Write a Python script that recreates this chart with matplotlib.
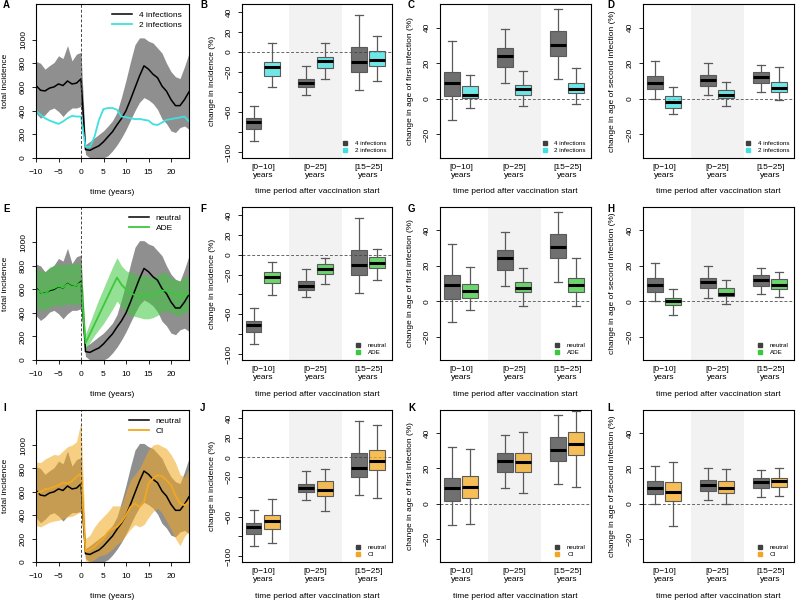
import numpy as np
import matplotlib.pyplot as plt
from matplotlib.colors import to_rgba
from matplotlib.lines import Line2D

plt.rcParams['font.family'] = ['Liberation Sans', 'DejaVu Sans']
plt.rcParams['font.size'] = 6

# ---- time series data (total incidence per year) ----
years = list(range(-10, 25))

neutral_line = [612, 572, 566, 590, 600, 625, 612, 650, 625, 632, 668,
                71, 65, 85, 103, 137, 180, 222, 280, 333, 400, 493, 593, 692, 778,
                750, 707, 678, 607, 564, 493, 442, 442, 493, 558]
neutral_hi = [815, 800, 750, 780, 806, 863, 840, 949, 820, 877, 892,
              114, 140, 170, 200, 229, 270, 314, 386, 514, 657, 814, 957, 1014, 1014,
              986, 971, 929, 886, 800, 729, 686, 671, 771, 886]
neutral_lo = [379, 336, 365, 407, 422, 393, 350, 393, 422, 422, 436,
              30, 0, 0, 0, 0, 20, 60, 110, 170, 240, 320, 400, 470, 510,
              490, 460, 410, 330, 290, 229, 215, 257, 270, 243]

two_inf_line = [399, 365, 336, 316, 302, 288, 308, 336, 356, 350, 350,
                94, 94, 180, 322, 413, 422, 422, 407, 350, 345, 336, 328, 330, 322,
                316, 285, 279, 299, 322, 328, 336, 342, 350, 308]

ade_line = [600, 575, 560, 600, 610, 630, 615, 645, 620, 635, 655,
            143, 223, 303, 383, 463, 543, 623, 700, 640, 600, 570, 550, 545, 545,
            550, 545, 570, 590, 590, 575, 555, 540, 545, 565]
ade_hi = [780, 760, 750, 790, 800, 820, 800, 820, 810, 820, 830,
          220, 320, 420, 520, 610, 700, 790, 870, 800, 760, 740, 730, 720, 720,
          710, 700, 720, 740, 740, 700, 680, 670, 700, 720]
ade_lo = [460, 420, 430, 440, 470, 460, 460, 480, 470, 470, 480,
          90, 150, 210, 260, 310, 370, 430, 500, 450, 410, 380, 370, 360, 350,
          350, 360, 380, 410, 420, 400, 380, 380, 400, 420]

ci_line = [586, 600, 623, 629, 643, 657, 680, 671, 691, 729, 757,
           90, 105, 129, 171, 200, 257, 286, 300, 343, 400, 471, 500, 471, 514,
           671, 714, 743, 734, 700, 657, 571, 500, 486, 514]
ci_hi = [857, 850, 880, 900, 920, 914, 950, 986, 1000, 1029, 1200,
         200, 230, 300, 350, 390, 430, 480, 480, 480, 600, 700, 750, 800, 880,
         960, 1000, 1010, 990, 970, 920, 850, 750, 720, 800]
ci_lo = [314, 300, 320, 340, 350, 357, 370, 386, 390, 410, 429,
         10, 0, 20, 50, 60, 80, 110, 150, 180, 230, 280, 320, 300, 320,
         380, 430, 460, 420, 350, 280, 200, 140, 220, 260]

# ---- boxplot data: [whislo, q1, median, q3, whishi] per period ----
periods = ['[0\u221210]\nyears', '[0\u221225]\nyears', '[15\u221225]\nyears']

inc_neutral = [[-89.4, -77.4, -70.4, -66.4, -53.8], [-42.9, -35.2, -31.2, -26.9, -14.3], [-38.2, -20.3, -10.3, 4.7, 36.9]]
inc_2inf = [[-34.6, -23.6, -15.3, -10.3, 9.0], [-27.2, -16.3, -8.6, -5.0, 9.3], [-29.2, -14.0, -8.0, 1.0, 16.0]]
inc_ade = [[-40.9, -28.0, -22.3, -17.9, -7.6], [-29.6, -19.6, -14.3, -9.6, -3.0], [-25.6, -13.6, -8.6, -2.3, 5.3]]
inc_ci = [[-86.8, -72.8, -64.2, -58.0, -42.0], [-54.6, -39.1, -32.8, -24.2, -11.6], [-41.0, -13.2, -3.3, 7.0, 32.5]]

first_neutral = [[-12.0, 1.5, 9.1, 14.8, 32.3], [8.6, 17.9, 24.3, 28.7, 39.2], [11.0, 24.3, 30.4, 38.0, 50.6]]
first_2inf = [[-5.3, 0.2, 1.9, 7.2, 13.1], [-4.2, 2.1, 5.3, 7.8, 15.6], [-2.7, 3.2, 5.3, 8.9, 17.5]]
first_ade = [[-5.1, 1.9, 5.7, 9.5, 19.3], [-2.5, 5.3, 7.6, 11.0, 18.9], [-2.5, 5.1, 9.1, 13.2, 24.2]]
first_ci = [[-11.7, 3.4, 9.7, 15.9, 30.9], [5.9, 18.2, 23.5, 28.6, 40.5], [9.3, 27.7, 33.7, 40.5, 52.5]]

second_neutral = [[0.0, 5.3, 9.1, 12.9, 21.5], [1.9, 7.2, 10.6, 13.3, 20.0], [4.0, 8.7, 12.0, 14.8, 19.0]]
second_2inf = [[-8.6, -5.1, -1.9, 1.5, 6.5], [-3.8, 0.2, 1.9, 4.8, 9.7], [-0.4, 3.8, 6.3, 9.7, 17.7]]
second_ade = [[-7.6, -1.9, 0.0, 1.9, 7.0], [-1.5, 2.8, 4.2, 7.2, 11.7], [2.5, 7.0, 9.1, 12.3, 16.6]]
second_ci = [[-12.5, 1.5, 6.4, 12.1, 23.5], [-0.4, 5.9, 9.1, 13.1, 19.7], [4.2, 9.3, 13.1, 14.8, 20.3]]

CYAN = '#40E0E0'
GREEN = '#3CC83C'
ORANGE = '#F2A81E'
GREY_BOX = '#404040'

W, H = 797, 603
fig = plt.figure(figsize=(W / 100, H / 100), dpi=100)


def px_axes(left, top, right, bottom):
    return fig.add_axes([left / W, 1 - bottom / H, (right - left) / W, (bottom - top) / H])


def frame(ax, wpx):
    for s in ax.spines.values():
        s.set_linewidth(0.8)
    ax.tick_params(direction='out', length=3, width=0.6, labelsize=6)
    ax.tick_params(axis='y', labelrotation=90, pad=3.5)
    for lab in ax.get_yticklabels():
        lab.set_va('center')
    ax.yaxis.set_label_coords(-30 / wpx, 0.5)
    ax.yaxis.label.set_va('center')


def ts_panel(ax, wpx, hpx, other_line, other_color, other_label, other_lo=None, other_hi=None):
    ax.fill_between(years, neutral_lo, neutral_hi, color='#8f8f8f', lw=0)
    ax.plot(years, neutral_line, color='black', lw=1.1)
    if other_lo is not None:
        ax.fill_between(years, other_lo, other_hi, color=other_color, alpha=0.55, lw=0)
    ax.plot(years, other_line, color=other_color, lw=1.3)
    ax.axvline(0, color='#444444', lw=0.7, ls=(0, (3, 2)))
    ax.set_xlim(-10, 24)
    ax.set_ylim(0, 1300)
    ax.set_xticks([-10, -5, 0, 5, 10, 15, 20])
    ax.set_xticklabels(['\u221210', '\u22125', '0', '5', '10', '15', '20'])
    ax.set_yticks([0, 200, 400, 600, 800, 1000])
    ax.set_ylabel('total incidence')
    ax.set_xlabel('time (years)')
    frame(ax, wpx)
    ax.tick_params(axis='x', pad=5)
    ax.xaxis.set_label_coords(0.5, -35 / hpx)
    ax.xaxis.label.set_va('center')
    first = 'neutral' if other_label != '2 infections' else '4 infections'
    handles = [Line2D([], [], color='black', lw=1.1), Line2D([], [], color=other_color, lw=1.3)]
    ax.legend(handles, [first, other_label], loc='upper right', frameon=False,
              fontsize=6, handlelength=2.4, labelspacing=0.2, borderaxespad=0.5)


def box_panel(ax, wpx, hpx, neutral, other, color, labels, ylab, kind):
    ax.axvspan(1.5, 2.5, color='#f2f2f2', lw=0, zorder=0)
    ax.axhline(0, color='#666666', lw=0.7, ls=(0, (3, 2)), zorder=1)
    stats, pos, fills = [], [], []
    for i in range(3):
        for j, st in enumerate((neutral[i], other[i])):
            stats.append(dict(whislo=st[0], q1=st[1], med=st[2], q3=st[3], whishi=st[4]))
            pos.append(i + 1 + (-0.18 if j == 0 else 0.17))
            fills.append(GREY_BOX if j == 0 else color)
    res = ax.bxp(stats, positions=pos, widths=0.3, patch_artist=True, showfliers=False,
                 capwidths=0.15, manage_ticks=False,
                 boxprops=dict(edgecolor='#5a5a5a', linewidth=0.8),
                 whiskerprops=dict(color='#5a5a5a', linewidth=0.9),
                 capprops=dict(color='#5a5a5a', linewidth=0.9),
                 medianprops=dict(color='black', linewidth=2.2))
    for b, c in zip(res['boxes'], fills):
        b.set_facecolor(to_rgba(c, 0.75))
        b.set_zorder(3)
    for k in ('whiskers', 'caps'):
        for ln in res[k]:
            ln.set_zorder(2)
    for ln in res['medians']:
        ln.set_zorder(4)
    ax.set_xlim(0.6, 3.45)
    ax.set_xticks([1, 2, 3])
    ax.set_xticklabels(periods, linespacing=1.35)
    if kind == 'inc':
        ax.set_ylim(-106, 48)
        ax.set_yticks([-100, -80, -60, -40, -20, 0, 20, 40])
        ax.set_yticklabels(['\u2212100', '', '\u221260', '', '\u221220', '0', '20', '40'])
    else:
        ax.set_ylim(-33.2, 53.2)
        ax.set_yticks([-20, 0, 20, 40])
        ax.set_yticklabels(['\u221220', '0', '20', '40'])
    ax.set_ylabel(ylab)
    ax.set_xlabel('time period after vaccination start')
    frame(ax, wpx)
    ax.tick_params(axis='x', length=0, pad=4)
    ax.xaxis.set_label_coords(0.5, -34 / hpx)
    ax.xaxis.label.set_va('center')
    handles = [Line2D([], [], marker='s', ls='', color=GREY_BOX, ms=3.5),
               Line2D([], [], marker='s', ls='', color=color, ms=3.5)]
    ax.legend(handles, labels, loc='lower right', frameon=False, fontsize=4.5,
              handletextpad=0.6, labelspacing=0.25, borderaxespad=0.4)


cols = [(36, 189), (242, 392), (440, 591), (643, 794)]
rows = [(4, 158), (207, 360), (410, 562)]

scen = [
    (two_inf_line, CYAN, '2 infections', None, None, inc_2inf, first_2inf, second_2inf, ['4 infections', '2 infections']),
    (ade_line, GREEN, 'ADE', ade_lo, ade_hi, inc_ade, first_ade, second_ade, ['neutral', 'ADE']),
    (ci_line, ORANGE, 'CI', ci_lo, ci_hi, inc_ci, first_ci, second_ci, ['neutral', 'CI']),
]
letters = 'ABCDEFGHIJKL'
letter_x = [3, 200, 408, 607]
letter_y = [5, 209, 408]

for r, (top, bottom) in enumerate(rows):
    line, col, lab, lo, hi, inc, first, second, leg = scen[r]
    hpx = bottom - top
    l, rr = cols[0]
    ax = px_axes(l, top, rr, bottom)
    ts_panel(ax, rr - l, hpx, line, col, lab, lo, hi)
    panels = [(inc_neutral, inc, 'change in incidence (%)', 'inc'),
              (first_neutral, first, 'change in age of first infection (%)', 'age'),
              (second_neutral, second, 'change in age of second infection (%)', 'age')]
    for c, (neu, oth, ylab, kind) in enumerate(panels, start=1):
        l, rr = cols[c]
        ax = px_axes(l, top, rr, bottom)
        box_panel(ax, rr - l, hpx, neu, oth, col, leg, ylab, kind)
    for c in range(4):
        fig.text(letter_x[c] / W, 1 - letter_y[r] / H, letters[r * 4 + c],
                 fontsize=7, fontweight='bold', ha='left', va='center')

fig.savefig('out.png', dpi=100)
